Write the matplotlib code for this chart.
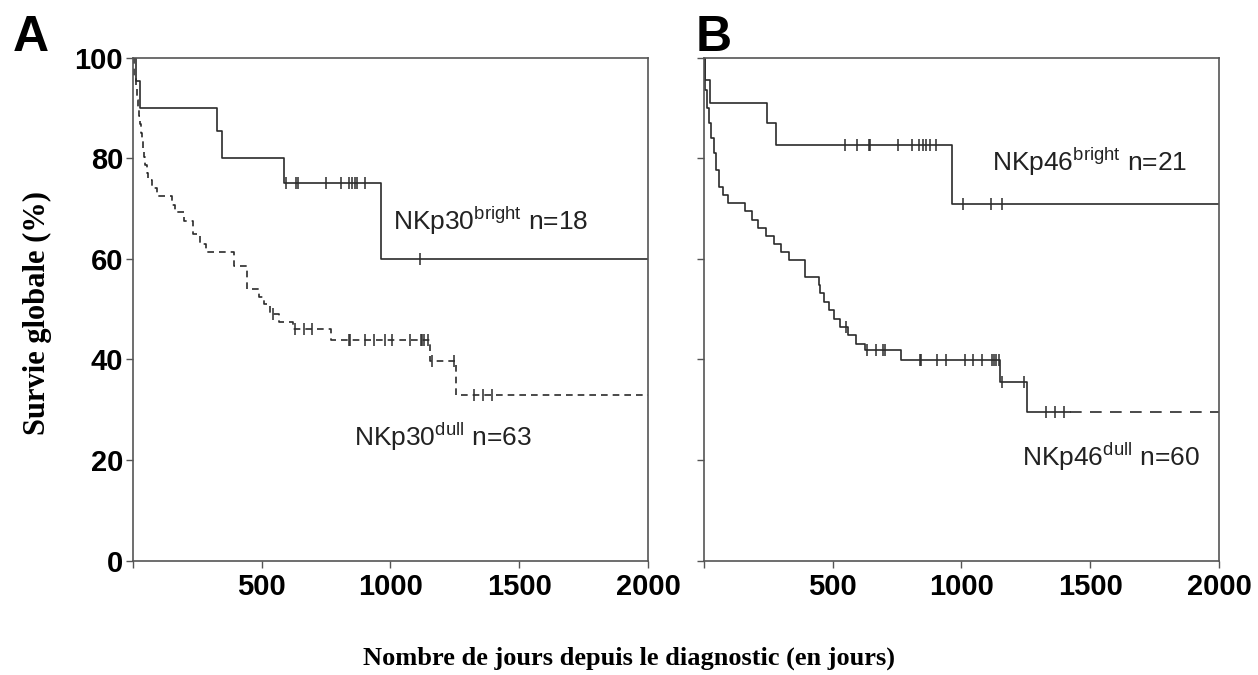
import numpy as np
import matplotlib.pyplot as plt

plt.rcParams['font.family'] = ['Liberation Sans', 'DejaVu Sans']
plt.rcParams['mathtext.default'] = 'regular'

# Panel A - NKp30
a_bright_t = [0, 10, 26, 325, 344, 588, 964]
a_bright_s = [100, 95.4, 90.0, 85.4, 80.0, 75.1, 60.0]
a_bright_cens = [595, 634, 641, 748, 807, 839, 850, 861, 869, 901, 1114]

a_dull_t = [0, 4, 10, 17, 20, 24, 28, 32, 36, 40, 44, 48, 53, 59, 74, 95, 150, 164,
            199, 234, 262, 282, 391, 442, 491, 510, 533, 567, 623, 769, 1155, 1253]
a_dull_s = [100, 96, 94.4, 91.5, 89.9, 88.3, 86.7, 85.1, 83.5, 81.9, 80.3, 78.7, 77.1,
            75.6, 74.0, 72.4, 70.7, 69.2, 67.6, 65.0, 63.0, 61.4, 58.6, 54.0, 52.4,
            51.0, 49.0, 47.4, 46.1, 43.9, 39.7, 33.0]
a_dull_cens = [544, 630, 664, 697, 839, 843, 901, 936, 978, 1006, 1075, 1117, 1124,
               1131, 1145, 1160, 1245, 1325, 1360, 1395]

# Panel B - NKp46
b_bright_t = [0, 5, 22, 246, 281, 964]
b_bright_s = [100, 95.5, 91.0, 87.0, 82.7, 70.8]
b_bright_cens = [548, 595, 641, 644, 752, 807, 835, 849, 863, 877, 902, 1006, 1115, 1158]

b_dull_t = [0, 3, 10, 18, 28, 38, 48, 58, 74, 95, 158, 185, 210, 240, 272, 300, 330,
            391, 445, 452, 465, 485, 505, 530, 560, 590, 627, 766, 1150, 1254]
b_dull_s = [100, 93.5, 90, 87, 84, 81, 77.6, 74.3, 72.7, 71, 69.4, 67.7, 66.2, 64.6,
            63, 61.4, 59.8, 56.4, 54.7, 53.1, 51.4, 49.8, 48.1, 46.4, 44.8, 43.1,
            41.8, 39.8, 35.5, 29.5]
b_dull_cens = [551, 634, 669, 696, 703, 838, 843, 904, 939, 1015, 1043, 1078, 1119,
               1126, 1133, 1145, 1158, 1244, 1327, 1362, 1397]
b_dull_tail = 1420

x_end = 2000
line_col = '#2b2b2b'


def surv_at(t, s, x):
    idx = np.searchsorted(t, x, side='right') - 1
    return np.asarray(s)[idx]


def km(ax, t, s, cens, ls='-', tail=None):
    t_full = list(t) + [x_end]
    s_full = list(s) + [s[-1]]
    if tail is None:
        ax.step(t_full, s_full, where='post', color=line_col, lw=1.2, ls=ls)
    else:
        t_a = list(t) + [tail]
        s_a = list(s) + [s[-1]]
        ax.step(t_a, s_a, where='post', color=line_col, lw=1.2, ls='-')
        ax.plot([tail, x_end], [s[-1], s[-1]], color=line_col, lw=1.2,
                ls=(0, (7, 5)))
    ax.plot(cens, surv_at(t, s, cens), ls='none', marker='|', ms=8, mew=1.1,
            color=line_col)


fig = plt.figure(figsize=(12.58, 6.75), dpi=100)
ax_a = fig.add_axes([0.1057, 0.1696, 0.4094, 0.7451])
ax_b = fig.add_axes([0.5596, 0.1696, 0.4094, 0.7451])

km(ax_a, a_bright_t, a_bright_s, a_bright_cens)
km(ax_a, a_dull_t, a_dull_s, a_dull_cens, ls=(0, (4, 3)))
km(ax_b, b_bright_t, b_bright_s, b_bright_cens)
km(ax_b, b_dull_t, b_dull_s, b_dull_cens, tail=b_dull_tail)

for ax in (ax_a, ax_b):
    ax.set_xlim(0, x_end)
    ax.set_ylim(0, 100)
    ax.set_xticks([0, 500, 1000, 1500, 2000])
    ax.set_xticklabels(['', '500', '1000', '1500', '2000'],
                       fontsize=21, fontweight='bold')
    ax.set_yticks([0, 20, 40, 60, 80, 100])
    ax.tick_params(direction='out', length=5, width=1, color='#555555', pad=4)
    for sp in ax.spines.values():
        sp.set_color('#555555')
        sp.set_linewidth(1.2)

ax_a.set_yticklabels(['0', '20', '40', '60', '80', '100'], fontsize=21,
                     fontweight='bold')
ax_a.tick_params(axis='y', pad=2)
ax_b.set_yticklabels([])

ax_a.text(1010, 67.6, 'NKp30$^{bright}$ n=18', fontsize=19, va='center', color='#222222')
ax_a.text(860, 24.6, 'NKp30$^{dull}$ n=63', fontsize=19, va='center', color='#222222')
ax_b.text(1120, 79.3, 'NKp46$^{bright}$ n=21', fontsize=19, va='center', color='#222222')
ax_b.text(1235, 20.6, 'NKp46$^{dull}$ n=60', fontsize=19, va='center', color='#222222')

fig.text(0.010, 0.944, 'A', fontsize=36, fontweight='bold', va='center')
fig.text(0.553, 0.944, 'B', fontsize=36, fontweight='bold', va='center')

fig.text(0.030, 0.536, 'Survie globale (%)', rotation=90, ha='center', va='center',
         fontsize=22, fontweight='bold', family='Liberation Serif')
fig.text(0.50, 0.025, 'Nombre de jours depuis le diagnostic (en jours)',
         ha='center', va='center', fontsize=19, fontweight='bold',
         family='Liberation Serif')

fig.savefig('out.png', dpi=100)
